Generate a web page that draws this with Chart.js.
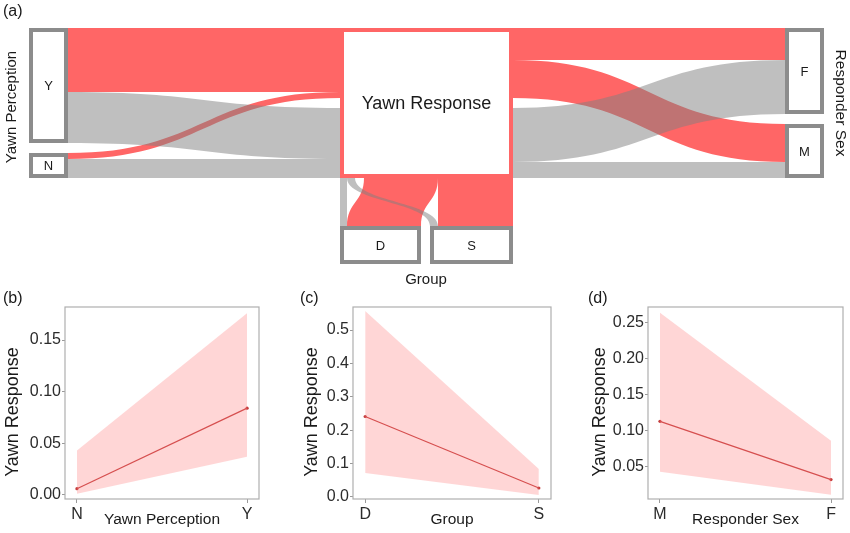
<!DOCTYPE html>
<html>
<head>
<meta charset="utf-8">
<script src="https://cdn.jsdelivr.net/npm/chart.js@4.4.1/dist/chart.umd.min.js"></script>
<style>
    body { margin: 0; background: #fff; }
    canvas { position: absolute; }
</style>
</head>
<body>
<canvas id="flow" width="850" height="290" style="left:0px;top:0px"></canvas>
<canvas id="panelB" width="290" height="248" style="left:0px;top:285px"></canvas>
<canvas id="panelC" width="290" height="248" style="left:290px;top:285px"></canvas>
<canvas id="panelD" width="275" height="248" style="left:575px;top:285px"></canvas>
<script>
// (a) flow sizes: yawned (red) / did not yawn (grey)
var perceptionLevels = ['Y', 'N'];
var perceptionYawned = [64, 6];
var perceptionNotYawned = [51, 19];

var sexLevels = ['F', 'M'];
var sexYawned = [32, 38];
var sexNotYawned = [54, 16];

var groupLevels = ['D', 'S'];
var groupYawned = [74, 75];
var groupNotYawned = [7, 8];

// (b)-(d) fitted yawn response with confidence band
var perceptionCats = ['N', 'Y'];
var perceptionFit = [0.006, 0.084];
var perceptionLow = [0.001, 0.037];
var perceptionHigh = [0.043, 0.176];
var perceptionTicks = [0, 0.05, 0.10, 0.15];

var groupCats = ['D', 'S'];
var groupFit = [0.241, 0.027];
var groupLow = [0.072, 0.006];
var groupHigh = [0.557, 0.084];
var groupTicks = [0, 0.1, 0.2, 0.3, 0.4, 0.5];

var sexCats = ['M', 'F'];
var sexFit = [0.113, 0.032];
var sexLow = [0.043, 0.011];
var sexHigh = [0.264, 0.086];
var sexTicks = [0.05, 0.10, 0.15, 0.20, 0.25];

var RED = 'rgb(255,102,102)';
var GREY = 'rgba(128,128,128,0.5)';
var NODE = 'rgb(140,140,140)';
var FONT = '"Liberation Sans", Arial, sans-serif';

function sum(arr) { return arr.reduce(function (a, b) { return a + b; }, 0); }

function stack(values, start, gap) {
    var out = [], pos = start;
    values.forEach(function (v) { out.push([pos, pos + v]); pos += v + gap; });
    return out;
}

function hRibbon(ctx, x0, a0, b0, x1, a1, b1, color) {
    var xm = (x0 + x1) / 2;
    ctx.beginPath();
    ctx.moveTo(x0, a0);
    ctx.bezierCurveTo(xm, a0, xm, a1, x1, a1);
    ctx.lineTo(x1, b1);
    ctx.bezierCurveTo(xm, b1, xm, b0, x0, b0);
    ctx.closePath();
    ctx.fillStyle = color;
    ctx.fill();
}

function vRibbon(ctx, y0, a0, b0, y1, a1, b1, color) {
    var ym = (y0 + y1) / 2;
    ctx.beginPath();
    ctx.moveTo(a0, y0);
    ctx.bezierCurveTo(a0, ym, a1, ym, a1, y1);
    ctx.lineTo(b1, y1);
    ctx.bezierCurveTo(b1, ym, b0, ym, b0, y0);
    ctx.closePath();
    ctx.fillStyle = color;
    ctx.fill();
}

function nodeBox(ctx, x0, y0, x1, y1, color, label, size) {
    ctx.fillStyle = '#fff';
    ctx.fillRect(x0, y0, x1 - x0, y1 - y0);
    ctx.strokeStyle = color;
    ctx.lineWidth = 4;
    ctx.strokeRect(x0 + 2, y0 + 2, x1 - x0 - 4, y1 - y0 - 4);
    ctx.fillStyle = '#1a1a1a';
    ctx.font = size + 'px ' + FONT;
    ctx.textAlign = 'center';
    ctx.textBaseline = 'middle';
    ctx.fillText(label, (x0 + x1) / 2, (y0 + y1) / 2 + 1);
}

function text(ctx, str, x, y, size, rot, align) {
    ctx.save();
    ctx.translate(x, y);
    ctx.rotate(rot || 0);
    ctx.fillStyle = '#1a1a1a';
    ctx.font = size + 'px ' + FONT;
    ctx.textAlign = align || 'center';
    ctx.textBaseline = 'middle';
    ctx.fillText(str, 0, 0);
    ctx.restore();
}

// side columns: each level split into yawned / not yawned, joined to the centre node
function sideFlows(ys, yes, no) {
    var totals = yes.map(function (v, i) { return v + no[i]; });
    var gap = (ys.max - sum(totals)) / Math.max(totals.length - 1, 1);
    var nodes = stack(totals, ys.min, gap);
    return {
        nodes: nodes,
        yesSide: nodes.map(function (n, i) { return [n[0], n[0] + yes[i]]; }),
        noSide: nodes.map(function (n, i) { return [n[0] + yes[i], n[1]]; }),
        yesCentre: stack(yes, ys.min, 0),
        noCentre: stack(no, ys.max - sum(no), 0)
    };
}

var flowPlugin = {
    id: 'flows',
    afterDraw: function (chart) {
        var ctx = chart.ctx, xs = chart.scales.x, ys = chart.scales.y;
        var px = function (v) { return xs.getPixelForValue(v); };
        var py = function (v) { return ys.getPixelForValue(v); };

        var leftX = [29, 68], midX = [340, 513], rightX = [785, 824];
        var bottomY = [226, 264];
        var midBottom = py(ys.max);

        var left = sideFlows(ys, perceptionYawned, perceptionNotYawned);
        var right = sideFlows(ys, sexYawned, sexNotYawned);

        // bottom: centre -> group nodes (widths along x)
        var gTotals = groupYawned.map(function (v, i) { return v + groupNotYawned[i]; });
        var gGap = (midX[1] - midX[0] - sum(gTotals)) / (gTotals.length - 1);
        var gNodes = stack(gTotals, midX[0], gGap);
        var gNoCentre = stack(groupNotYawned, midX[0], 0);
        var gYesCentre = stack(groupYawned, midX[1] - sum(groupYawned), 0);

        ctx.save();
        // red ribbons first
        left.yesSide.forEach(function (s, i) {
            hRibbon(ctx, leftX[1], py(s[0]), py(s[1]), midX[0], py(left.yesCentre[i][0]), py(left.yesCentre[i][1]), RED);
        });
        right.yesSide.forEach(function (s, i) {
            hRibbon(ctx, midX[1], py(right.yesCentre[i][0]), py(right.yesCentre[i][1]), rightX[0], py(s[0]), py(s[1]), RED);
        });
        gNodes.forEach(function (n, i) {
            var a = n[0] + groupNotYawned[i];
            vRibbon(ctx, midBottom, px(gYesCentre[i][0]), px(gYesCentre[i][1]), bottomY[0], px(a), px(n[1]), RED);
        });
        // grey ribbons on top
        left.noSide.forEach(function (s, i) {
            hRibbon(ctx, leftX[1], py(s[0]), py(s[1]), midX[0], py(left.noCentre[i][0]), py(left.noCentre[i][1]), GREY);
        });
        right.noSide.forEach(function (s, i) {
            hRibbon(ctx, midX[1], py(right.noCentre[i][0]), py(right.noCentre[i][1]), rightX[0], py(s[0]), py(s[1]), GREY);
        });
        gNodes.forEach(function (n, i) {
            vRibbon(ctx, midBottom, px(gNoCentre[i][0]), px(gNoCentre[i][1]), bottomY[0], px(n[0]), px(n[0] + groupNotYawned[i]), GREY);
        });

        // nodes
        left.nodes.forEach(function (n, i) {
            nodeBox(ctx, leftX[0], py(n[0]), leftX[1], py(n[1]), NODE, perceptionLevels[i], 13);
        });
        right.nodes.forEach(function (n, i) {
            nodeBox(ctx, rightX[0], py(n[0]), rightX[1], py(n[1]), NODE, sexLevels[i], 13);
        });
        gNodes.forEach(function (n, i) {
            nodeBox(ctx, px(n[0]), bottomY[0], px(n[1]), bottomY[1], NODE, groupLevels[i], 13);
        });
        nodeBox(ctx, midX[0], py(ys.min), midX[1], midBottom, RED, 'Yawn Response', 18);

        text(ctx, '(a)', 3, 12, 16, 0, 'left');
        text(ctx, 'Yawn Perception', 12, 107, 15, -Math.PI / 2);
        text(ctx, 'Responder Sex', 840, 103, 15.5, Math.PI / 2);
        text(ctx, 'Group', 426, 280, 15);
        ctx.restore();
    }
};

new Chart(document.getElementById('flow'), {
    type: 'scatter',
    data: { datasets: [{ data: [] }] },
    options: {
        responsive: false,
        animation: false,
        layout: { padding: { top: 28, bottom: 112, left: 0, right: 0 } },
        plugins: { legend: { display: false }, tooltip: { enabled: false } },
        scales: {
            x: { type: 'linear', min: 0, max: 850, display: false },
            y: { type: 'linear', min: 0, max: 150, reverse: true, display: false }
        }
    },
    plugins: [flowPlugin]
});

// panel frame, tag and y title (sits a little below the panel centre, as in the original)
var framePlugin = {
    id: 'frame',
    afterDraw: function (chart, args, opts) {
        var ctx = chart.ctx, a = chart.chartArea;
        ctx.save();
        ctx.strokeStyle = 'rgb(175,175,175)';
        ctx.lineWidth = 1.2;
        ctx.strokeRect(a.left, a.top, a.right - a.left, a.bottom - a.top);
        ctx.restore();
        text(ctx, opts.tag, opts.tagX, 14, 16, 0, 'left');
        text(ctx, 'Yawn Response', opts.titleX, (a.top + a.bottom) / 2 + 9, 18, -Math.PI / 2);
    }
};

function CreateEffectChart(element, cats, fit, low, high, yMin, yMax, yTicks, decimals, xTitle, tag, pad) {
    var pts = function (arr) { return arr.map(function (v, i) { return { x: i, y: v }; }); };
    var config = {
        type: 'line',
        data: {
            datasets: [
                { data: pts(high), fill: '+1', backgroundColor: 'rgba(255,120,120,0.3)', borderWidth: 0, pointRadius: 0 },
                { data: pts(low), fill: false, borderWidth: 0, pointRadius: 0 },
                { data: pts(fit), fill: false, borderColor: 'rgb(196,62,62)', borderWidth: 1.2,
                  pointRadius: 1.6, pointBackgroundColor: 'rgb(196,62,62)', pointBorderWidth: 0 }
            ]
        },
        options: {
            responsive: false,
            animation: false,
            layout: { padding: { left: pad.left, right: pad.right, top: 22, bottom: 0 } },
            plugins: {
                legend: { display: false },
                tooltip: { enabled: false },
                frame: { tag: tag, tagX: pad.tagX, titleX: pad.left + 13 }
            },
            scales: {
                x: {
                    type: 'linear', min: -0.07, max: 1.07,
                    afterBuildTicks: function (s) { s.ticks = cats.map(function (c, i) { return { value: i }; }); },
                    afterFit: function (s) { s.height = 34; },
                    ticks: { callback: function (v) { return cats[v]; }, font: { size: 16, family: FONT }, color: '#2b2b2b', padding: 2, maxRotation: 0, autoSkip: false },
                    grid: { drawOnChartArea: false, tickLength: 4, color: '#999' },
                    border: { display: false },
                    title: { display: true, text: xTitle, font: { size: 15.5, family: FONT }, color: '#1a1a1a', padding: { top: 0, bottom: 4 } }
                },
                y: {
                    type: 'linear', min: yMin, max: yMax,
                    afterBuildTicks: function (s) { s.ticks = yTicks.map(function (v) { return { value: v }; }); },
                    afterFit: function (s) { s.width = pad.axis; },
                    ticks: { callback: function (v) { return v.toFixed(decimals); }, font: { size: 16, family: FONT }, color: '#2b2b2b', padding: 1 },
                    grid: { drawOnChartArea: false, tickLength: 3, color: '#999' },
                    border: { display: false },
                    title: { display: false }
                }
            }
        },
        plugins: [framePlugin]
    };
    return new Chart(document.getElementById(element), config);
}

CreateEffectChart('panelB', perceptionCats, perceptionFit, perceptionLow, perceptionHigh,
    -0.004, 0.182, perceptionTicks, 2, 'Yawn Perception', '(b)', { left: 0, axis: 65, right: 31, tagX: 3 });
CreateEffectChart('panelC', groupCats, groupFit, groupLow, groupHigh,
    -0.006, 0.569, groupTicks, 1, 'Group', '(c)', { left: 9, axis: 54, right: 29, tagX: 10 });
CreateEffectChart('panelD', sexCats, sexFit, sexLow, sexHigh,
    0.005, 0.272, sexTicks, 2, 'Responder Sex', '(d)', { left: 12, axis: 61, right: 7, tagX: 13 });
</script>
</body>
</html>
